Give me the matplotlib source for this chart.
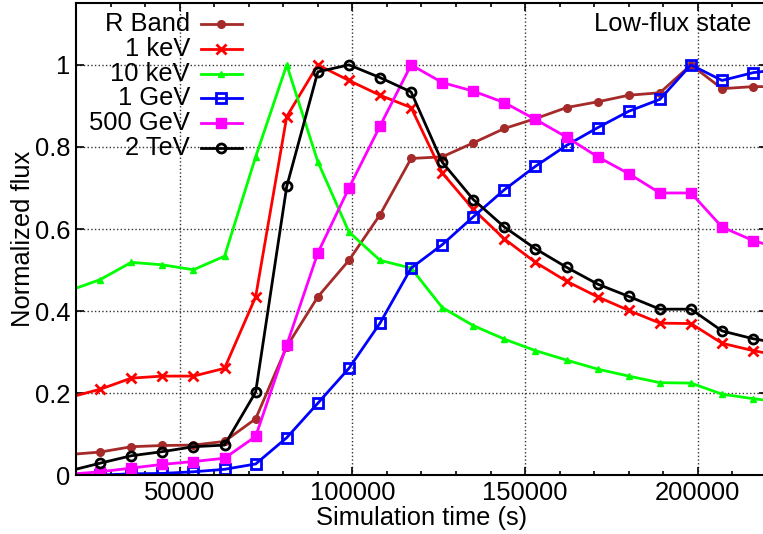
import matplotlib
matplotlib.use('Agg')
from matplotlib import pyplot as plt


time_s = [18000, 27000, 36000, 45000, 54000, 63000, 72000, 81000, 90000, 99000,
          108000, 117000, 126000, 135000, 144000, 153000, 162000, 171000, 180000,
          189000, 198000, 207000, 216000, 225000]

r_band = [0.051, 0.057, 0.070, 0.073, 0.074, 0.083, 0.138, 0.314, 0.435, 0.524,
          0.635, 0.772, 0.776, 0.810, 0.845, 0.869, 0.896, 0.910, 0.926, 0.932,
          1.0, 0.942, 0.947, 0.947]
kev_1 = [0.190, 0.210, 0.237, 0.242, 0.242, 0.261, 0.435, 0.874, 1.0, 0.962,
         0.926, 0.896, 0.737, 0.648, 0.576, 0.519, 0.473, 0.435, 0.402, 0.371,
         0.370, 0.322, 0.304, 0.290]
kev_10 = [0.450, 0.477, 0.519, 0.513, 0.501, 0.534, 0.776, 1.0, 0.764, 0.593,
          0.524, 0.505, 0.409, 0.365, 0.332, 0.304, 0.281, 0.259, 0.242, 0.226,
          0.225, 0.198, 0.187, 0.178]
gev_1 = [0.0, 0.001, 0.004, 0.005, 0.009, 0.015, 0.028, 0.092, 0.176, 0.261,
         0.371, 0.505, 0.562, 0.630, 0.696, 0.753, 0.804, 0.847, 0.887, 0.916,
         1.0, 0.962, 0.981, 0.990]
gev_500 = [0.003, 0.009, 0.018, 0.027, 0.034, 0.042, 0.095, 0.318, 0.542, 0.700,
           0.851, 1.0, 0.957, 0.936, 0.908, 0.867, 0.824, 0.776, 0.735, 0.688,
           0.688, 0.605, 0.572, 0.550]
tev_2 = [0.011, 0.030, 0.048, 0.058, 0.070, 0.074, 0.203, 0.704, 0.983, 1.0,
         0.969, 0.934, 0.763, 0.672, 0.605, 0.552, 0.507, 0.466, 0.436, 0.405,
         0.405, 0.352, 0.333, 0.320]

labels = ['R Band', '1 keV', '10 keV', '1 GeV', '500 GeV', '2 TeV']
series = [r_band, kev_1, kev_10, gev_1, gev_500, tev_2]
colors = ['#a52a2a', '#ff0000', '#00ff00', '#0000ff', '#ff00ff', '#000000']
markers = ['o', 'x', '^', 's', 's', 'o']
sizes = [5.5, 7.5, 5, 6.5, 7, 6.5]
filled = [True, True, True, False, True, False]

plt.rcParams['font.family'] = ['Liberation Sans', 'DejaVu Sans']
plt.rcParams['font.size'] = 18.4

fig = plt.figure(figsize=(7.63, 5.34), dpi=100)
ax = fig.add_axes([0.0996, 0.1096, 0.9056, 0.8843])

for y, c, m, ms, f in zip(series, colors, markers, sizes, filled):
    ax.plot(time_s, y, color=c, marker=m, markersize=ms, linewidth=2,
            markerfacecolor=c if f else 'none', markeredgecolor=c,
            markeredgewidth=2 if not f or m == 'x' else 1)

ax.set_xlim(20000, 220000)
ax.set_ylim(0, 1.15)
ax.set_xticks([50000, 100000, 150000, 200000])
ax.set_xticks(range(30000, 220000, 10000), minor=True)
ax.set_yticks([0, 0.2, 0.4, 0.6, 0.8, 1.0])
ax.set_yticklabels(['0', '0.2', '0.4', '0.6', '0.8', '1'])
ax.tick_params(which='both', direction='in', top=True, right=True, width=1.2)
ax.tick_params(which='major', length=6, pad=4)
ax.tick_params(which='minor', length=3)
for s in ax.spines.values():
    s.set_linewidth(1.5)
ax.grid(which='major', linestyle=':', color='0.2', linewidth=1)

ax.set_xlabel('Simulation time (s)', labelpad=0.5)
ax.set_ylabel('Normalized flux', labelpad=0)

# gnuplot style key: text right aligned, sample on the right
row0 = 0.956
step = 0.0525
for i, (lab, c, m, ms, f) in enumerate(zip(labels, colors, markers, sizes, filled)):
    yy = row0 - i * step
    ax.text(0.165, yy, lab, transform=ax.transAxes, ha='right', va='center')
    ax.plot([0.181, 0.240], [yy, yy], transform=ax.transAxes, color=c, linewidth=2)
    ax.plot([0.2105], [yy], transform=ax.transAxes, color=c, marker=m, markersize=ms,
            markerfacecolor=c if f else 'none', markeredgecolor=c,
            markeredgewidth=2 if not f or m == 'x' else 1)

ax.text(0.978, 0.956, 'Low-flux state', transform=ax.transAxes, ha='right', va='center')

fig.savefig('out.png', dpi=100)
